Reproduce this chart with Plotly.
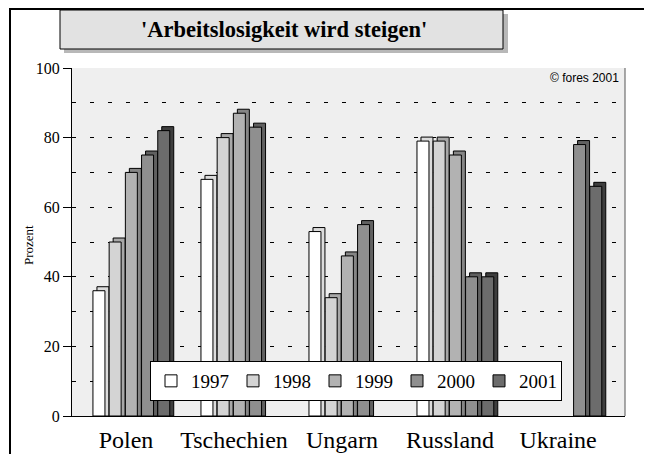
import plotly.graph_objects as go

countries = ["Polen", "Tschechien", "Ungarn", "Russland", "Ukraine"]
years = ["1997", "1998", "1999", "2000", "2001"]

v1997 = [36, 68, 53, 79, None]
v1998 = [50, 80, 34, 79, None]
v1999 = [70, 87, 46, 75, None]
v2000 = [75, 83, 55, 40, 78]
v2001 = [82, None, None, 40, 66]

y_ticks = [0, 20, 40, 60, 80, 100]

series = [v1997, v1998, v1999, v2000, v2001]
front_colors = ["#ffffff", "#d4d4d4", "#b2b2b2", "#8f8f8f", "#6c6c6c"]
side_colors = ["#dcdcdc", "#a8a8a8", "#858585", "#606060", "#3e3e3e"]

SERIF = "Liberation Serif, Times New Roman, Times, serif"

# the page body has an 8px margin, so the figure is a bit smaller and
# everything below is worked out in page pixels minus that offset
OFF = 8
W, H = 652 - OFF, 454 - OFF
L, R, T, B = 72 - OFF, 27, 68 - OFF, 38


def px_x(x):
    return (x - OFF - L) / (W - L - R)


def px_y(y):
    return (H - B - (y - OFF)) / (H - T - B)


bar_w = 0.111
pitch = 0.15
first = -0.306
depth_x = 0.037
depth_y = 1.15

fig = go.Figure()

# fake 3D: darker block drawn behind each bar, nudged up/right
for i, vals in enumerate(series):
    fig.add_trace(go.Bar(
        x=countries,
        y=[None if v is None else v + depth_y for v in vals],
        offset=first + i * pitch + depth_x,
        width=bar_w,
        marker=dict(color=side_colors[i], line=dict(color="black", width=1)),
        showlegend=False,
        hoverinfo="skip",
    ))

for i, vals in enumerate(series):
    fig.add_trace(go.Bar(
        x=countries,
        y=vals,
        name=years[i],
        offset=first + i * pitch,
        width=bar_w,
        marker=dict(color=front_colors[i], line=dict(color="black", width=1)),
    ))

shapes = [
    # outer frame (top + left)
    dict(type="line", xref="paper", yref="paper", x0=px_x(9), x1=px_x(652),
         y0=px_y(9), y1=px_y(9), line=dict(color="black", width=2)),
    dict(type="line", xref="paper", yref="paper", x0=px_x(10), x1=px_x(10),
         y0=px_y(8), y1=px_y(454), line=dict(color="black", width=2)),
    # title box shadow + box
    dict(type="rect", xref="paper", yref="paper", x0=px_x(64), x1=px_x(508),
         y0=px_y(14), y1=px_y(53), fillcolor="#b8b8b8", line=dict(width=0)),
    dict(type="rect", xref="paper", yref="paper", x0=px_x(60), x1=px_x(503),
         y0=px_y(10), y1=px_y(49), fillcolor="#e2e2e2",
         line=dict(color="black", width=1)),
    # right wall of plot area
    dict(type="line", xref="paper", yref="paper", x0=1, x1=1, y0=0, y1=1,
         line=dict(color="#555555", width=1)),
]

annotations = [
    dict(text="<b>'Arbeitslosigkeit wird steigen'</b>", xref="paper", yref="paper",
         x=px_x(284), y=px_y(30), xanchor="center", yanchor="middle",
         showarrow=False, font=dict(family=SERIF, size=22.5, color="black")),
    dict(text="Prozent", xref="paper", yref="paper", x=px_x(28), y=px_y(245),
         xanchor="center", yanchor="middle", textangle=-90, showarrow=False,
         font=dict(family=SERIF, size=13, color="black")),
    dict(text="© fores 2001", xref="paper", yref="paper", x=px_x(621), y=px_y(78),
         xanchor="right", yanchor="middle", showarrow=False,
         font=dict(family="Liberation Sans", size=12, color="black")),
]

fig.update_layout(
    width=W,
    height=H,
    margin=dict(l=L, r=R, t=T, b=B, pad=0),
    paper_bgcolor="white",
    plot_bgcolor="#efefef",
    barmode="overlay",
    font=dict(family=SERIF, color="black"),
    shapes=shapes,
    annotations=annotations,
    legend=dict(
        orientation="h",
        x=px_x(150), y=px_y(361), xanchor="left", yanchor="top",
        bgcolor="white", bordercolor="black", borderwidth=1,
        font=dict(family=SERIF, size=19, color="black"),
        entrywidth=37,
        traceorder="normal",
    ),
    hovermode=False,
)

fig.update_xaxes(
    range=[-0.5, 4.62],
    showline=True, linecolor="black", linewidth=1,
    showgrid=False, ticks="",
    automargin=False,
    ticklabelstandoff=2,
    tickfont=dict(family=SERIF, size=24, color="black"),
)
fig.update_yaxes(
    range=[0, 100],
    tickvals=y_ticks,
    showline=True, linecolor="black", linewidth=1,
    ticks="outside", ticklen=8, tickcolor="black",
    showgrid=True, gridcolor="black", gridwidth=1, griddash="4px,14px",
    minor=dict(dtick=10, showgrid=True, gridcolor="black", griddash="4px,14px"),
    zeroline=False,
    automargin=False,
    tickfont=dict(family=SERIF, size=16, color="black"),
)

fig.write_html("out.html")
